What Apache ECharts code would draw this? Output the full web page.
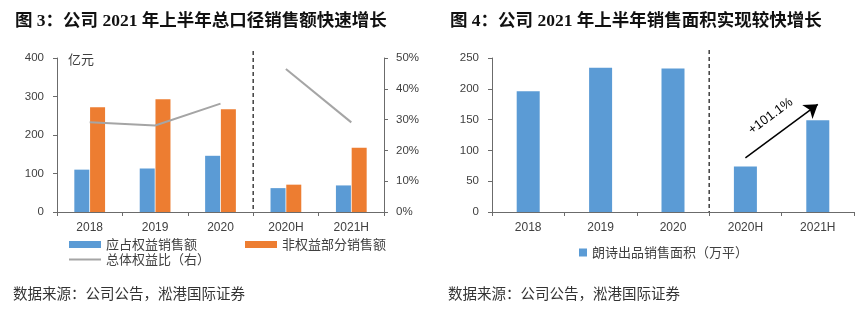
<!DOCTYPE html>
<html>
<head>
<meta charset="utf-8">
<script src="https://cdn.jsdelivr.net/npm/echarts@6/dist/echarts.min.js"></script>
<style>
html,body{margin:0;padding:0;background:#fff;}
#c{width:861px;height:322px;}
</style>
</head>
<body>
<div id="c"></div>
<script>
const categories = ['2018', '2019', '2020', '2020H', '2021H'];
const equitySales = [110, 113, 146, 62, 69];
const nonEquitySales = [272, 293, 267, 71, 167];
const equityRatio = [29.1, 28.1, 35.2, 46.4, 29.1];
const areaSold = [196, 234, 233, 74, 148.8];
const growthLabel = '+101.1%';
const title3 = '图 3：公司 2021 年上半年总口径销售额快速增长';
const title4 = '图 4：公司 2021 年上半年销售面积实现较快增长';
const sourceText = '数据来源：公司公告，淞港国际证券';

const ratioAnnual = equityRatio.map((v, i) => i < 3 ? v : null);
const ratioHalf = equityRatio.map((v, i) => i >= 3 ? v : null);

const BLUE = '#5b9bd5', ORANGE = '#ed7d31', GRAY = '#a5a5a5';
const AX = '#6b6b6b', TXT = '#404040';
const NUMFONT = "'Liberation Sans', 'Noto Sans CJK SC', sans-serif";
const CJK = "'Noto Sans CJK SC', sans-serif";
const TITLEFONT = "'Liberation Serif', 'Noto Sans CJK SC', serif";

const chart = echarts.init(document.getElementById('c'), null, {renderer: 'canvas'});

const axisCommon = {
  axisLine: {show: true, lineStyle: {color: AX, width: 1}},
  axisTick: {show: true, length: 4, lineStyle: {color: AX}},
  splitLine: {show: false},
  axisLabel: {color: TXT, fontSize: 11.5, fontFamily: NUMFONT}
};

const option = {
  animation: false,
  backgroundColor: '#fff',
  grid: [
    {left: 57, top: 58, width: 327, height: 154},
    {left: 492, top: 58, width: 362, height: 154}
  ],
  xAxis: [
    Object.assign({}, axisCommon, {type: 'category', gridIndex: 0, data: categories,
      axisTick: {show: true, length: 4, alignWithLabel: false, lineStyle: {color: AX}},
      axisLabel: Object.assign({}, axisCommon.axisLabel, {margin: 10, fontSize: 12})}),
    Object.assign({}, axisCommon, {type: 'category', gridIndex: 1, data: categories,
      axisTick: {show: true, length: 4, alignWithLabel: false, lineStyle: {color: AX}},
      axisLabel: Object.assign({}, axisCommon.axisLabel, {margin: 10, fontSize: 12})})
  ],
  yAxis: [
    Object.assign({}, axisCommon, {type: 'value', gridIndex: 0, min: 0, max: 400, interval: 100,
      axisLabel: Object.assign({}, axisCommon.axisLabel, {margin: 13})}),
    Object.assign({}, axisCommon, {type: 'value', gridIndex: 0, position: 'right', min: 0, max: 50, interval: 10,
      axisLabel: Object.assign({}, axisCommon.axisLabel, {margin: 12, formatter: '{value}%'})}),
    Object.assign({}, axisCommon, {type: 'value', gridIndex: 1, min: 0, max: 250, interval: 50,
      axisLabel: Object.assign({}, axisCommon.axisLabel, {margin: 13})})
  ],
  legend: [
    {left: 64, top: 233, itemWidth: 32, itemHeight: 7, icon: 'rect',
      data: ['应占权益销售额'], textStyle: {color: TXT, fontSize: 13, fontFamily: CJK}},
    {left: 240, top: 233, itemWidth: 32, itemHeight: 7, icon: 'rect',
      data: ['非权益部分销售额'], textStyle: {color: TXT, fontSize: 13, fontFamily: CJK}},
    {left: 64, top: 248, itemWidth: 32, itemHeight: 2, icon: 'rect',
      itemStyle: {color: GRAY},
      data: ['总体权益比（右）'], textStyle: {color: TXT, fontSize: 13, fontFamily: CJK}},
    {left: 574, top: 241, itemWidth: 8, itemHeight: 8, icon: 'rect',
      data: ['朗诗出品销售面积（万平）'], textStyle: {color: TXT, fontSize: 13, fontFamily: CJK}}
  ],
  series: [
    {name: '应占权益销售额', type: 'bar', xAxisIndex: 0, yAxisIndex: 0, data: equitySales,
      barWidth: 15, barGap: '5%', itemStyle: {color: BLUE}},
    {name: '非权益部分销售额', type: 'bar', xAxisIndex: 0, yAxisIndex: 0, data: nonEquitySales,
      barWidth: 15, barGap: '5%', itemStyle: {color: ORANGE}},
    {name: '总体权益比（右）', type: 'line', xAxisIndex: 0, yAxisIndex: 1, data: ratioAnnual,
      symbol: 'none', connectNulls: false, lineStyle: {color: GRAY, width: 2}, itemStyle: {color: GRAY}},
    {name: '总体权益比（右）', type: 'line', xAxisIndex: 0, yAxisIndex: 1, data: ratioHalf,
      symbol: 'none', connectNulls: false, lineStyle: {color: GRAY, width: 2}, itemStyle: {color: GRAY}},
    {name: '朗诗出品销售面积（万平）', type: 'bar', xAxisIndex: 1, yAxisIndex: 2, data: areaSold,
      barWidth: 23, itemStyle: {color: BLUE},
      markLine: {
        silent: true, symbol: ['none', 'arrow'], symbolSize: 13,
        lineStyle: {color: '#000', width: 1.5, type: 'solid'},
        label: {show: true, position: 'insideMiddleTop', distance: 12, formatter: growthLabel,
          color: '#000', fontSize: 13, fontFamily: NUMFONT},
        data: [[{coord: [categories[3], areaSold[3] + 14], symbol: 'none'},
                {coord: [categories[4], areaSold[4] + 26], symbol: 'arrow', symbolSize: 13}]]
      }}
  ]
};
chart.setOption(option);

function boundaryX(xi) {
  const a = chart.convertToPixel({xAxisIndex: xi}, categories[2]);
  const b = chart.convertToPixel({xAxisIndex: xi}, categories[3]);
  return (a + b) / 2;
}
const bottomY = chart.convertToPixel({yAxisIndex: 0}, 0);
const xl = boundaryX(0), xr = boundaryX(1);

chart.setOption({
  graphic: [
    {type: 'text', left: 15, top: 13, style: {text: title3, fill: '#111', font: "bold 17.5px " + TITLEFONT}},
    {type: 'text', left: 450, top: 13, style: {text: title4, fill: '#111', font: "bold 17.5px " + TITLEFONT}},
    {type: 'text', left: 68, top: 53, style: {text: '亿元', fill: TXT, font: "13px " + CJK}},
    {type: 'text', left: 13, top: 286, style: {text: sourceText, fill: '#333', font: "14.5px " + CJK}},
    {type: 'text', left: 448, top: 286, style: {text: sourceText, fill: '#333', font: "14.5px " + CJK}},
    {type: 'line', shape: {x1: xl, y1: 51, x2: xl, y2: bottomY}, style: {stroke: '#404040', lineWidth: 1.5, lineDash: [4, 3]}},
    {type: 'line', shape: {x1: xr, y1: 50, x2: xr, y2: bottomY}, style: {stroke: '#404040', lineWidth: 1.5, lineDash: [4, 3]}}
  ]
});
</script>
</body>
</html>
